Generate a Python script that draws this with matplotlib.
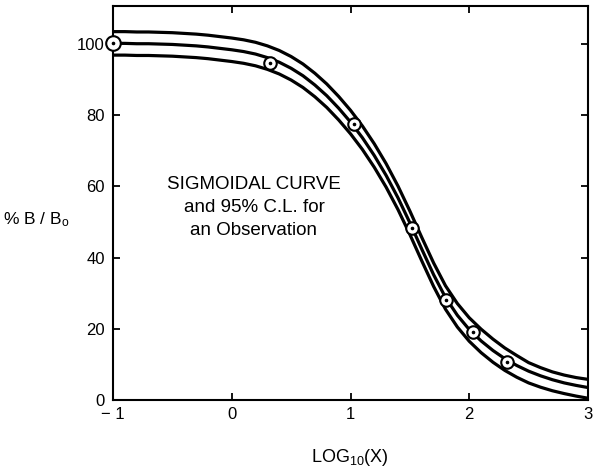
import matplotlib
matplotlib.use("Agg")
import matplotlib.pyplot as plt

plt.rcParams['font.family'] = ['Liberation Sans', 'DejaVu Sans']
plt.rcParams['mathtext.default'] = 'regular'

# ---- data ----
log_x = [-1.0, -0.9, -0.8, -0.7, -0.6, -0.5, -0.4, -0.3, -0.2, -0.1,
         0.0, 0.1, 0.2, 0.3, 0.4, 0.5, 0.6, 0.7, 0.8, 0.9,
         1.0, 1.1, 1.2, 1.3, 1.4, 1.5, 1.6, 1.7, 1.8, 1.9,
         2.0, 2.1, 2.2, 2.3, 2.4, 2.5, 2.6, 2.7, 2.8, 2.9, 3.0]
curve_mid = [100.2, 100.2, 100.1, 100.1, 100.0, 99.9, 99.7, 99.5, 99.2, 98.8,
             98.4, 97.9, 97.2, 96.2, 94.9, 93.2, 91.1, 88.5, 85.5, 82.0,
             78.1, 73.7, 68.7, 63.1, 56.8, 49.8, 42.4, 35.2, 28.8, 23.8,
             19.8, 16.6, 13.9, 11.6, 9.7, 8.1, 6.8, 5.7, 4.8, 4.1, 3.5]
curve_upper = [103.5, 103.5, 103.4, 103.4, 103.3, 103.2, 103.0, 102.8, 102.5, 102.1,
               101.7, 101.2, 100.5, 99.5, 98.2, 96.5, 94.4, 91.8, 88.8, 85.3,
               81.4, 77.0, 72.0, 66.4, 60.1, 53.1, 45.7, 38.5, 32.1, 27.1,
               23.1, 19.9, 17.1, 14.6, 12.5, 10.5, 9.1, 7.9, 7.0, 6.3, 5.8]
curve_lower = [96.9, 96.9, 96.8, 96.8, 96.7, 96.6, 96.4, 96.2, 95.9, 95.5,
               95.1, 94.6, 93.9, 92.9, 91.6, 89.9, 87.8, 85.2, 82.2, 78.7,
               74.8, 70.4, 65.4, 59.8, 53.5, 46.5, 39.1, 31.9, 25.5, 20.5,
               16.5, 13.3, 10.6, 8.3, 6.4, 4.8, 3.6, 2.6, 1.8, 1.1, 0.5]
obs_x = [-1.0, 0.32, 1.03, 1.52, 1.80, 2.03, 2.32]
obs_y = [100.2, 94.6, 77.5, 48.2, 28.1, 19.2, 10.8]

x_ticks = [-1, 0, 1, 2, 3]
x_ticklabels = ['\u2212 1', '0', '1', '2', '3']
y_ticks = [0, 20, 40, 60, 80, 100]

# ---- figure ----
fig = plt.figure(figsize=(5.97, 4.71), dpi=100)
ax = fig.add_axes([113/597, 71/471, 475/597, 394/471])

for c in (curve_upper, curve_mid, curve_lower):
    ax.plot(log_x, c, color='black', lw=2.3, solid_capstyle='butt', clip_on=True)

ax.plot(obs_x[1:], obs_y[1:], 'o', ms=9, mfc='white', mec='black', mew=1.5, zorder=5)
ax.plot(obs_x[:1], obs_y[:1], 'o', ms=10.5, mfc='white', mec='black', mew=1.5,
        zorder=6, clip_on=False)
ax.plot(obs_x, obs_y, 'o', ms=1.6, color='black', zorder=7, clip_on=False)

ax.set_xlim(-1, 3)
ax.set_ylim(0, 110.7)
ax.set_xticks(x_ticks)
ax.set_xticklabels(x_ticklabels)
ax.set_yticks(y_ticks)
ax.tick_params(direction='in', length=5, width=1.3, top=True, right=True,
               labelsize=12)
ax.tick_params(axis='y', pad=6)
ax.tick_params(axis='x', pad=5)
for s in ax.spines.values():
    s.set_linewidth(1.5)

ax.text(0.187, 54.0, 'SIGMOIDAL CURVE\nand 95% C.L. for\nan Observation',
        ha='center', va='center', fontsize=13.5, linespacing=1.45)

fig.text(350/597, 1 - 458/471, 'LOG$_{10}$(X)', ha='center', va='center', fontsize=13)
fig.text(3/597, 1 - 220/471, '% B / B$_o$', ha='left', va='center', fontsize=12.5)

fig.savefig('out.png', dpi=100)
